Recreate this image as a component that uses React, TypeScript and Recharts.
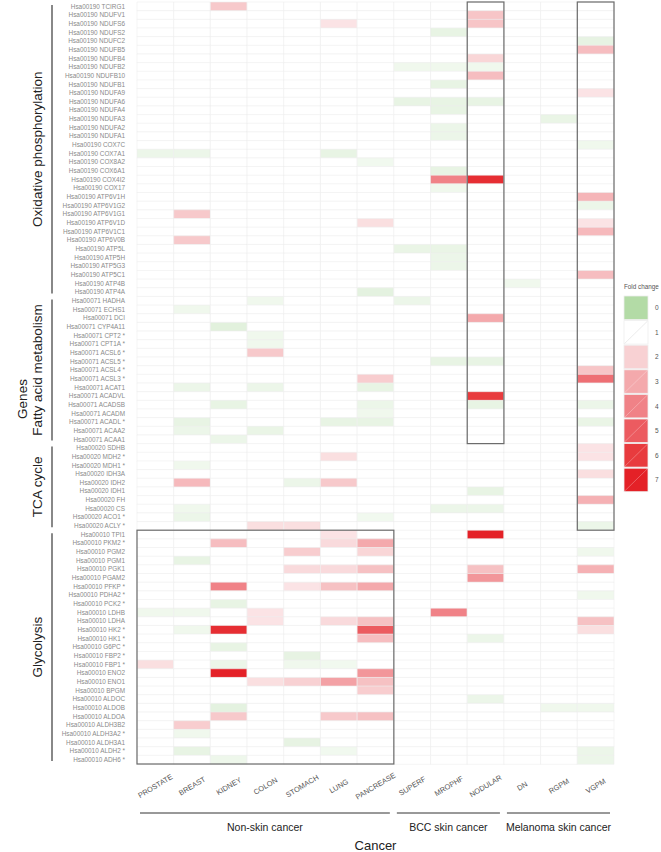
import { BarChart, Bar, Cell, XAxis, YAxis } from "recharts";

const FONT = "'Liberation Sans', Arial, Helvetica, sans-serif";

const cancers = [
  "PROSTATE", "BREAST", "KIDNEY", "COLON", "STOMACH", "LUNG", "PANCREASE",
  "SUPERF", "MROPHF", "NODULAR", "DN", "RGPM", "VGPM",
];

const oxGenes = [
  "TCIRG1", "NDUFV1", "NDUFS6", "NDUFS2", "NDUFC2", "NDUFB5", "NDUFB4", "NDUFB2", "NDUFB10", "NDUFB1",
  "NDUFA9", "NDUFA6", "NDUFA4", "NDUFA3", "NDUFA2", "NDUFA1", "COX7C", "COX7A1", "COX8A2", "COX6A1",
  "COX4I2", "COX17", "ATP6V1H", "ATP6V1G2", "ATP6V1G1", "ATP6V1D", "ATP6V1C1", "ATP6V0B", "ATP5L", "ATP5H",
  "ATP5G3", "ATP5C1", "ATP4B", "ATP4A",
];
const faGenes = [
  "HADHA", "ECHS1", "DCI", "CYP4A11", "CPT2 *", "CPT1A *", "ACSL6 *", "ACSL5 *", "ACSL4 *", "ACSL3 *",
  "ACAT1", "ACADVL", "ACADSB", "ACADM", "ACADL *", "ACAA2", "ACAA1",
];
const tcaGenes = ["SDHB", "MDH2 *", "MDH1 *", "IDH3A", "IDH2", "IDH1", "FH", "CS", "ACO1 *", "ACLY *"];
const glyGenes = [
  "TPI1", "PKM2 *", "PGM2", "PGM1", "PGK1", "PGAM2", "PFKP *", "PDHA2 *", "PCK2 *", "LDHB",
  "LDHA", "HK2 *", "HK1 *", "G6PC *", "FBP2 *", "FBP1 *", "ENO2", "ENO1", "BPGM", "ALDOC",
  "ALDOB", "ALDOA", "ALDH3B2", "ALDH3A2 *", "ALDH3A1", "ALDH2 *", "ADH6 *",
];

const genes = [
  ...oxGenes.map((g) => `Hsa00190 ${g}`),
  ...faGenes.map((g) => `Hsa00071 ${g}`),
  ...tcaGenes.map((g) => `Hsa00020 ${g}`),
  ...glyGenes.map((g) => `Hsa00010 ${g}`),
];

// fold change per cancer type, one value per gene row (top to bottom)
const prostate = [
  1, 1, 1, 1, 1, 1, 1, 1, 1, 1,
  1, 1, 1, 1, 1, 1, 1, 0.75, 1, 1,
  1, 1, 1, 1, 1, 1, 1, 1, 1, 1,
  1, 1, 1, 1, 1, 1, 1, 1, 1, 1,
  1, 1, 1, 1, 1, 1, 1, 1, 1, 1,
  1, 1, 1, 1, 1, 1, 1, 1, 1, 1,
  1, 1, 1, 1, 1, 1, 1, 1, 1, 1,
  0.8, 1, 1, 1, 1, 1, 1.7, 1, 1, 1,
  1, 1, 1, 1, 1, 1, 1, 1,
];
const breast = [
  1, 1, 1, 1, 1, 1, 1, 1, 1, 1,
  1, 1, 1, 1, 1, 1, 1, 0.75, 1, 1,
  1, 1, 1, 1, 2.2, 1, 1, 2.2, 1, 1,
  1, 1, 1, 1, 1, 0.8, 1, 1, 1, 1,
  1, 1, 1, 1, 0.75, 1, 1, 1, 0.7, 0.75,
  1, 1, 1, 0.8, 1, 2.6, 1, 1, 0.8, 0.75,
  1, 1, 1, 1, 0.7, 1, 1, 1, 1, 1,
  0.8, 1, 0.8, 1, 1, 1, 1, 1, 1, 1,
  1, 1, 1, 2.1, 0.8, 1, 0.7, 1,
];
const kidney = [
  2.2, 1, 1, 1, 1, 1, 1, 1, 1, 1,
  1, 1, 1, 1, 1, 1, 1, 1, 1, 1,
  1, 1, 1, 1, 1, 1, 1, 1, 1, 1,
  1, 1, 1, 1, 1, 1, 1, 0.62, 1, 1,
  1, 1, 1, 1, 1, 1, 0.7, 1, 1, 1,
  0.75, 1, 1, 1, 1, 1, 1, 1, 1, 1,
  1, 1, 2.5, 1, 1, 1, 1, 4, 1, 0.7,
  1, 1, 6.5, 1, 0.7, 1, 0.75, 7, 1, 1,
  1, 0.65, 2.2, 1, 1, 1, 1, 0.78,
];
const colon = [
  1, 1, 1, 1, 1, 1, 1, 1, 1, 1,
  1, 1, 1, 1, 1, 1, 1, 1, 1, 1,
  1, 1, 1, 1, 1, 1, 1, 1, 1, 1,
  1, 1, 1, 1, 0.8, 1, 1, 1, 0.8, 0.8,
  2.2, 1, 1, 1, 0.75, 1, 1, 1, 1, 0.72,
  1, 1, 1, 1, 1, 1, 1, 1, 1, 1,
  1.7, 1, 1, 1, 1, 1, 1, 1, 1, 1,
  1.6, 1.6, 1, 1, 1, 1, 1, 1, 1.7, 1,
  1, 1, 1, 1, 1, 1, 1, 1,
];
const stomach = [
  1, 1, 1, 1, 1, 1, 1, 1, 1, 1,
  1, 1, 1, 1, 1, 1, 1, 1, 1, 1,
  1, 1, 1, 1, 1, 1, 1, 1, 1, 1,
  1, 1, 1, 1, 1, 1, 1, 1, 1, 1,
  1, 1, 1, 1, 1, 1, 1, 1, 1, 1,
  1, 1, 1, 1, 1, 0.75, 1, 1, 1, 1,
  1.7, 1, 1, 2.1, 1, 1.8, 1, 1.6, 1, 1,
  1, 1, 1, 1, 1, 0.68, 0.8, 1, 2, 1,
  1, 1, 1, 1, 1, 0.68, 1, 1,
];
const lung = [
  1, 1, 1.6, 1, 1, 1, 1, 1, 1, 1,
  1, 1, 1, 1, 1, 1, 1, 0.7, 1, 1,
  1, 1, 1, 1, 1, 1, 1, 1, 1, 1,
  1, 1, 1, 1, 1, 1, 1, 1, 1, 1,
  1, 1, 1, 1, 1, 1, 1, 1, 0.7, 1,
  1, 1, 1.7, 1, 1, 2.2, 1, 1, 1, 1,
  1, 1.6, 1.8, 1, 1, 1.8, 1, 2.4, 1, 1,
  1, 1.8, 1, 1, 1, 1, 0.82, 1, 3.2, 1,
  1, 1, 2.2, 1, 1, 1, 0.82, 1,
];
const pancrease = [
  1, 1, 1, 1, 1, 1, 1, 1, 1, 1,
  1, 1, 1, 1, 1, 1, 1, 1, 0.82, 1,
  1, 1, 1, 1, 1, 1.7, 1, 1, 1, 1,
  1, 1, 1, 0.65, 1, 1, 1, 1, 1, 1,
  1, 1, 1, 2.1, 0.7, 1, 0.75, 0.8, 0.7, 1,
  1, 1, 1, 1, 1, 1, 1, 1, 1, 0.82,
  1, 1, 3, 1.9, 1, 2.4, 1, 3, 1, 1,
  1, 2.4, 5, 2.5, 1, 1, 1, 3.5, 2.4, 2.1,
  1, 1, 2.4, 1, 1, 1, 1, 1,
];
const superf = [
  1, 1, 1, 1, 1, 1, 1, 0.8, 1, 1,
  1, 0.7, 1, 1, 1, 1, 1, 1, 1, 1,
  1, 1, 1, 1, 1, 1, 1, 1, 0.72, 1,
  1, 1, 1, 1, 0.75, 1, 1, 1, 1, 1,
  1, 1, 1, 1, 1, 1, 1, 1, 1, 1,
  1, 1, 1, 1, 1, 1, 1, 1, 1, 1,
  1, 1, 1, 1, 1, 1, 1, 1, 1, 1,
  1, 1, 1, 1, 1, 1, 1, 1, 1, 1,
  1, 1, 1, 1, 1, 1, 1, 1,
];
const mrophf = [
  1, 1, 1, 0.7, 1, 1, 1, 0.8, 1, 0.7,
  1, 0.7, 0.7, 1, 0.75, 0.75, 1, 1, 1, 0.7,
  4, 0.8, 1, 1, 1, 1, 1, 1, 0.72, 0.75,
  0.75, 1, 1, 1, 1, 1, 1, 1, 1, 1,
  1, 0.7, 1, 1, 1, 1, 1, 1, 1, 1,
  1, 1, 1, 1, 1, 1, 1, 1, 0.75, 1,
  1, 1, 1, 1, 1, 1, 1, 1, 1, 1,
  4, 1, 1, 1, 1, 1, 1, 1, 1, 1,
  1, 1, 1, 1, 1, 1, 1, 1,
];
const nodular = [
  1, 2.3, 2.3, 1, 1, 1, 1.9, 0.8, 2.5, 1,
  1, 0.7, 1, 1, 1, 1, 1, 1, 1, 1,
  6.5, 1, 1, 1, 1, 1, 1, 1, 1, 1,
  1, 1, 1, 1, 1, 1, 3, 1, 1, 1,
  1, 0.7, 1, 1, 1, 6, 0.7, 1, 1, 1,
  1, 1, 1, 1, 1, 1, 0.7, 1, 0.75, 1,
  1, 7, 1, 1, 1, 2.4, 3.5, 1, 1, 1,
  1, 1, 1, 0.75, 1, 1, 1, 1, 1, 1,
  0.75, 1, 1, 1, 1, 1, 1, 1,
];
const dn = [
  1, 1, 1, 1, 1, 1, 1, 1, 1, 1,
  1, 1, 1, 1, 1, 1, 1, 1, 1, 1,
  1, 1, 1, 1, 1, 1, 1, 1, 1, 1,
  1, 1, 0.8, 1, 1, 1, 1, 1, 1, 1,
  1, 1, 1, 1, 1, 1, 1, 1, 1, 1,
  1, 1, 1, 1, 1, 1, 1, 1, 1, 1,
  1, 1, 1, 1, 1, 1, 1, 1, 1, 1,
  1, 1, 1, 1, 1, 1, 1, 1, 1, 1,
  1, 1, 1, 1, 1, 1, 1, 1,
];
const rgpm = [
  1, 1, 1, 1, 1, 1, 1, 1, 1, 1,
  1, 1, 1, 0.72, 1, 1, 1, 1, 1, 1,
  1, 1, 1, 1, 1, 1, 1, 1, 1, 1,
  1, 1, 1, 1, 1, 1, 1, 1, 1, 1,
  1, 1, 1, 1, 1, 1, 1, 1, 1, 1,
  1, 1, 1, 1, 1, 1, 1, 1, 1, 1,
  1, 1, 1, 1, 1, 1, 1, 1, 1, 1,
  1, 1, 1, 1, 1, 1, 1, 1, 1, 1,
  1, 0.8, 1, 1, 1, 1, 1, 1,
];
const vgpm = [
  1, 1, 1, 1, 0.68, 2.5, 1, 1, 1, 1,
  1.6, 1, 1, 1, 1, 1, 0.8, 1, 1, 1,
  1, 1, 2.7, 0.75, 1, 1.6, 2.6, 1, 1, 1,
  1, 2.5, 1, 1, 1, 1, 1, 1, 1, 1,
  1, 1, 2.3, 4.5, 1, 1, 0.75, 1, 0.72, 1,
  1, 1.6, 1.6, 1, 1.7, 1, 1, 2.8, 1, 1,
  0.75, 1, 1, 0.8, 1, 2.8, 1, 1, 0.8, 1,
  1, 2.4, 1.7, 1, 1, 1, 1, 1, 1, 1,
  1, 0.8, 1, 1, 1, 1, 0.75, 0.75,
];

const foldByCancer = [
  prostate, breast, kidney, colon, stomach, lung, pancrease,
  superf, mrophf, nodular, dn, rgpm, vgpm,
];

const legendSteps = [0, 1, 2, 3, 4, 5, 6, 7];
const legendColors = [
  "#b3dba6", "#ffffff", "#f8d1d3", "#f4a9ac", "#f08287", "#ec5b60", "#e83b3e", "#e42127",
];

const geneGroups = [
  { name: "Oxidative phosphorylation", from: 0, to: 33 },
  { name: "Fatty acid metabolism", from: 34, to: 50 },
  { name: "TCA  cycle", from: 51, to: 60 },
  { name: "Glycolysis", from: 61, to: 87 },
];
const cancerGroups = [
  { name: "Non-skin cancer", from: 0, to: 6 },
  { name: "BCC skin cancer", from: 7, to: 9 },
  { name: "Melanoma skin cancer", from: 10, to: 12 },
];
// outlined blocks: [first cancer, last cancer, first gene row, last gene row]
const highlightBoxes = [
  [9, 9, 0, 50],
  [12, 12, 0, 60],
  [0, 6, 61, 87],
];

// chart geometry
const W = 661;
const H = 852;
const Y_AXIS_W = 137;
const X_AXIS_H = 88;
const TOP = 2;
const RIGHT = 47;
const PLOT_L = Y_AXIS_W;
const PLOT_W = W - Y_AXIS_W - RIGHT;
const PLOT_H = H - TOP - X_AXIS_H;
const ROW_H = PLOT_H / genes.length;
const COL_W = PLOT_W / cancers.length;

function hexToRgb(h: string) {
  const n = parseInt(h.slice(1), 16);
  return [(n >> 16) & 255, (n >> 8) & 255, n & 255];
}

function foldColor(v: number) {
  const lo = Math.max(0, Math.min(6, Math.floor(v)));
  const t = Math.max(0, Math.min(1, v - lo));
  const a = hexToRgb(legendColors[lo]);
  const b = hexToRgb(legendColors[lo + 1]);
  const c = a.map((x, i) => Math.round(x + (b[i] - x) * t));
  return `rgb(${c[0]},${c[1]},${c[2]})`;
}

const rows = genes.map((g) => {
  const r: Record<string, any> = { gene: g };
  cancers.forEach((_, c) => {
    r[`c${c}`] = 1;
  });
  return r;
});

function GeneTick({ x, y, payload }: any) {
  return (
    <text x={x - 12} y={y} dy="0.35em" textAnchor="end" fontSize={6.4} fill="#8a8a8a" fontFamily={FONT}>
      {payload.value}
    </text>
  );
}

function CancerTick({ x, y, payload }: any) {
  const name = cancers[Math.floor(payload.value)];
  return (
    <text
      transform={`translate(${x},${y + 22}) rotate(-31)`}
      textAnchor="middle"
      dy="0.35em"
      fontSize={7.4}
      fill="#555"
      fontFamily={FONT}
    >
      {name}
    </text>
  );
}

function Annotations() {
  const rowTop = (i: number) => TOP + i * ROW_H;
  const colX = (c: number) => PLOT_L + c * COL_W;
  return (
    <svg
      width={W}
      height={H}
      style={{ position: "absolute", left: 0, top: 0, pointerEvents: "none" }}
      fontFamily={FONT}
    >
      {highlightBoxes.map(([c1, c2, r1, r2], i) => (
        <rect
          key={i}
          x={colX(c1)}
          y={rowTop(r1)}
          width={colX(c2 + 1) - colX(c1)}
          height={rowTop(r2 + 1) - rowTop(r1)}
          fill="none"
          stroke="#6b6b6b"
          strokeWidth={1.2}
        />
      ))}
      <text transform={`translate(22,${(TOP + TOP + PLOT_H) / 2 + 16}) rotate(-90)`} textAnchor="middle" dy="0.35em" fontSize={13.5} fill="#222">
        Genes
      </text>
      {geneGroups.map((g) => {
        const y1 = rowTop(g.from) + 3;
        const y2 = rowTop(g.to + 1) - 3;
        const mid = (y1 + y2) / 2;
        return (
          <g key={g.name}>
            <line x1={52} x2={52} y1={y1} y2={y2} stroke="#888" strokeWidth={2} />
            <text transform={`translate(37,${mid}) rotate(-90)`} textAnchor="middle" dy="0.35em" fontSize={13.5} fill="#222">
              {g.name}
            </text>
          </g>
        );
      })}
      {cancerGroups.map((g) => {
        const x1 = colX(g.from) + 3;
        const x2 = colX(g.to + 1) - 4;
        return (
          <g key={g.name}>
            <line x1={x1} x2={x2} y1={813} y2={813} stroke="#333" strokeWidth={1} />
            <text x={(x1 + x2) / 2} y={827} dy="0.35em" textAnchor="middle" fontSize={10.5} fill="#222">
              {g.name}
            </text>
          </g>
        );
      })}
      <text x={PLOT_L + PLOT_W / 2} y={845} dy="0.35em" textAnchor="middle" fontSize={13} fill="#222">
        Cancer
      </text>
      <text x={624} y={287} dy="0.35em" fontSize={6.3} fill="#555">
        Fold change
      </text>
      {legendSteps.map((s, i) => {
        const y = 296 + i * 24.6;
        return (
          <g key={s}>
            <rect x={624} y={y} width={24} height={23.5} fill={legendColors[i]} stroke="#eeeeee" strokeWidth={0.8} />
            {i !== 0 && i !== 2 && (
              <line x1={624.5} y1={y + 23} x2={647.5} y2={y + 0.5} stroke={i === 1 ? "#e6e6e6" : "rgba(255,255,255,0.35)"} strokeWidth={0.8} />
            )}
            <text x={655} y={y + 12} dy="0.35em" fontSize={6.5} fill="#555">
              {s}
            </text>
          </g>
        );
      })}
    </svg>
  );
}

export default function App() {
  return (
    <div style={{ position: "absolute", left: 0, top: 0, width: W, height: H, background: "#fff" }}>
      <BarChart
        width={W}
        height={H}
        data={rows}
        layout="vertical"
        margin={{ top: TOP, right: RIGHT, bottom: 0, left: 0 }}
        barCategoryGap={0}
        barGap={0}
      >
        <XAxis
          type="number"
          domain={[0, cancers.length]}
          ticks={cancers.map((_, i) => i + 0.5)}
          interval={0}
          height={X_AXIS_H}
          axisLine={false}
          tickLine={false}
          tickSize={0}
          tickMargin={0}
          tick={<CancerTick />}
        />
        <YAxis
          type="category"
          dataKey="gene"
          width={Y_AXIS_W}
          interval={0}
          axisLine={false}
          tickLine={false}
          tickSize={0}
          tickMargin={0}
          tick={<GeneTick />}
        />
        {cancers.map((name, c) => (
          <Bar
            key={name}
            dataKey={`c${c}`}
            stackId="fold"
            isAnimationActive={false}
            stroke="#efefef"
            strokeWidth={0.6}
          >
            {genes.map((g, i) => (
              <Cell key={g} fill={foldColor(foldByCancer[c][i])} />
            ))}
          </Bar>
        ))}
      </BarChart>
      <Annotations />
    </div>
  );
}
